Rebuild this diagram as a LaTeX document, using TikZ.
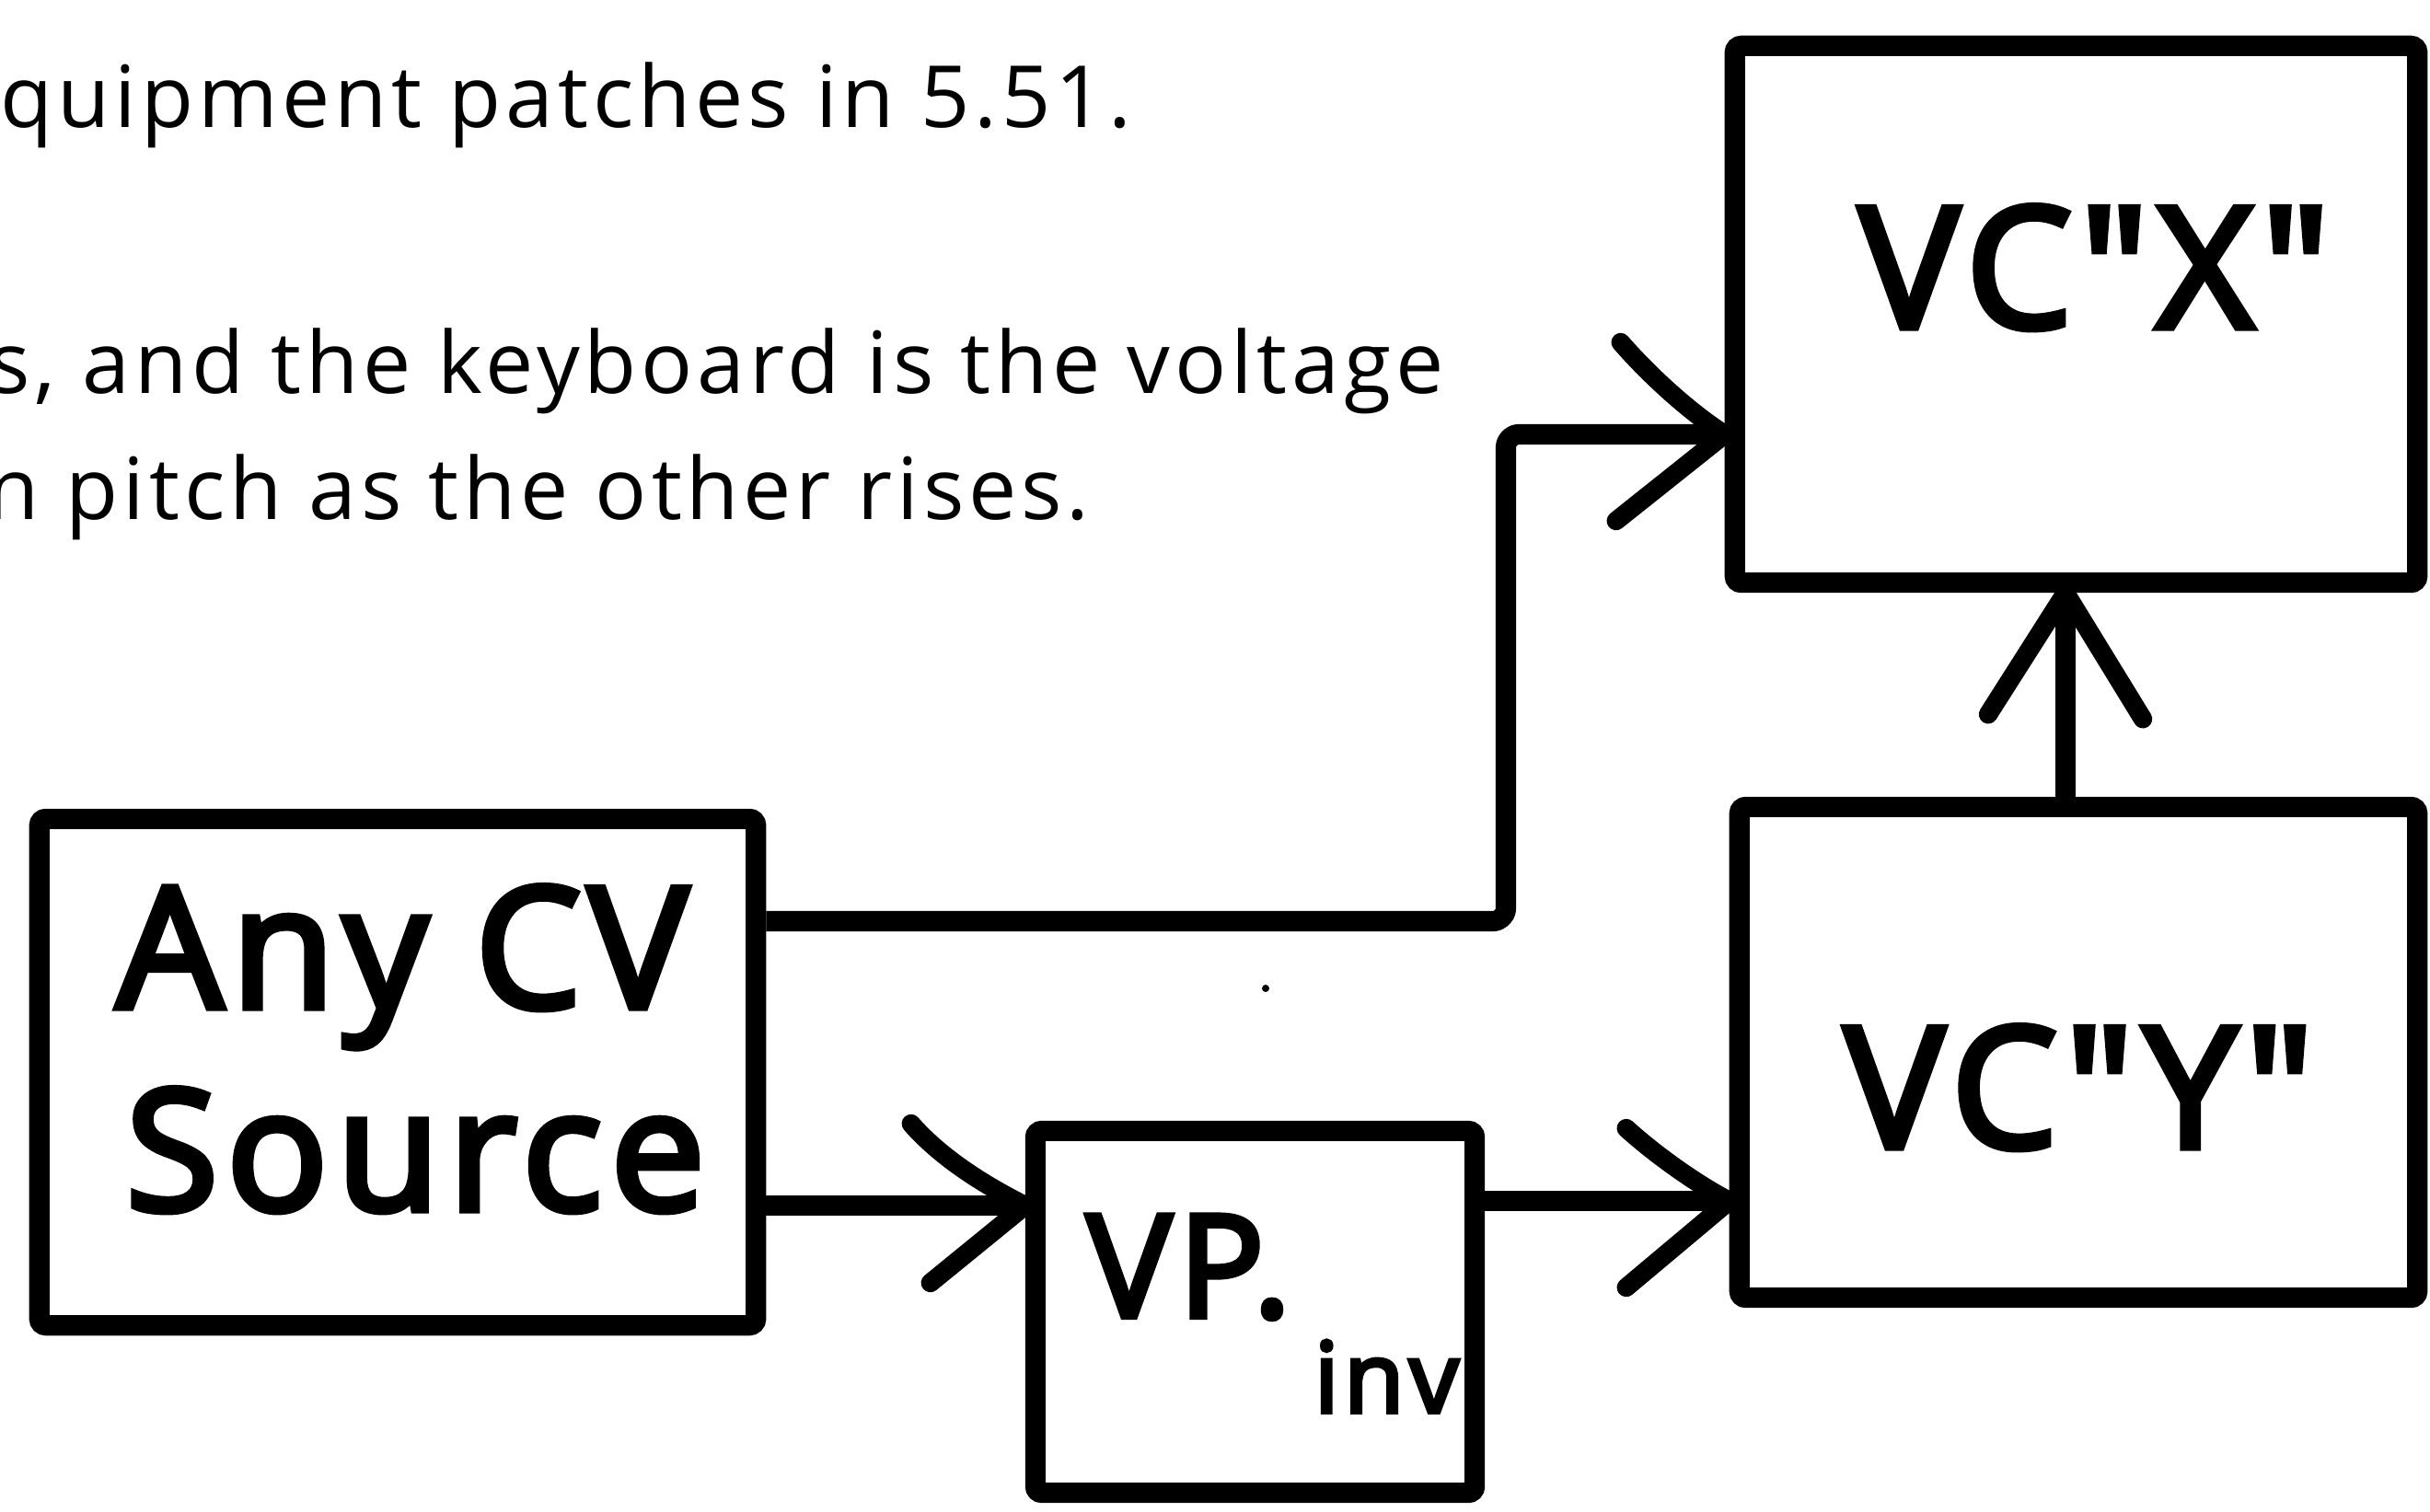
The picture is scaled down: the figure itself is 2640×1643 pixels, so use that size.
\documentclass[tikz,border=0pt]{standalone}
\usepackage{fontspec}
\setmainfont{Open Sans}
\newfontfamily\bodyfont[LetterSpace=5.2]{Open Sans}
\newfontfamily\labfont[FakeBold=4,LetterSpace=5]{Open Sans}
\usetikzlibrary{calc}
\begin{document}
\begin{tikzpicture}[x=0.01cm,y=-0.01cm,
  box/.style={draw, line width=6.3pt, rounded corners=2pt, inner sep=0pt},
  conn/.style={line width=6.3pt, line join=round, rounded corners=4pt},
  arm/.style={line width=5.8pt, line cap=round, line join=round},
  body/.style={font=\bodyfont\fontsize{26.5}{32}\selectfont, anchor=base west, inner sep=0pt},
  lab/.style={font=\labfont\fontsize{52}{60}\selectfont, anchor=base west, inner sep=0pt},
  labsm/.style={font=\labfont\fontsize{44}{50}\selectfont, anchor=base west, inner sep=0pt},
  labsub/.style={font=\labfont\fontsize{30.4}{36}\selectfont, anchor=base west, inner sep=0pt}]
\clip (0,0) rectangle (2640,1643);
\fill[white] (0,0) rectangle (2640,1643);

% text lines
\node[body] (l1) at (0,139) {quipment patches in 5.51.};
\node[body] (l2) at (-12,428) {s, and the keyboard is the voltage};
\node[body] (l3) at (-15,564) {n pitch as the other rises.};

% boxes
\node[box, minimum width=7.78cm, minimum height=5.5cm] (src) at (432,1165) {};
\node[box, minimum width=4.77cm, minimum height=3.93cm] (vpi) at (1363.5,1425.5) {};
\node[box, minimum width=7.41cm, minimum height=5.83cm] (vcx) at (2255.5,341.5) {};
\node[box, minimum width=7.36cm, minimum height=5.33cm] (vcy) at (2258,1143.5) {};

% labels
\node[lab] (tany) at (126,1095) {Any\kern0.28em C\kern0.04em V};
\node[lab] (tsrc) at (136,1315) {Source};
\node[lab] (tx) at (2019,356) {VC"X"};
\node[lab] (ty) at (2003,1247) {VC"Y"};
\node[labsm] (tvp) at (1180,1431) {VP.};
\node[labsub] (tinv) at (1427,1535) {inv};

% connectors
\coordinate (t1) at (vcx.west |- 0,472);
\coordinate (t2) at (vpi.west |- 0,1310);
\coordinate (t3) at (vcy.west |- 0,1305);
\coordinate (t4) at (vcx.south -| 2244,0);
\draw[conn] (src.east |- 0,1001) -- (1636,1001) -- (1636,472) -- (t1);
\draw[conn] (src.east |- 0,1310) -- (t2);
\draw[conn] (vpi.east |- 0,1305) -- (t3);
\draw[conn] (vcy.north -| 2244,0) -- (t4);

% arrowheads
\draw[arm] ($(t1)+(-113,-100)$) .. controls ($(t1)+(-80,-62)$) and ($(t1)+(-35,-22)$) .. (t1) -- ($(t1)+(-118,94)$);
\draw[arm] ($(t2)+(-124,-89)$) .. controls ($(t2)+(-90,-50)$) and ($(t2)+(-40,-20)$) .. (t2) -- ($(t2)+(-103,84)$);
\draw[arm] ($(t3)+(-112,-79)$) .. controls ($(t3)+(-80,-50)$) and ($(t3)+(-35,-18)$) .. (t3) -- ($(t3)+(-112,94)$);
\draw[arm] ($(t4)+(-84,132)$) -- (t4) -- ($(t4)+(84,137)$);

% speck
\fill (1375,1074) circle (4);
\end{tikzpicture}
\end{document}
